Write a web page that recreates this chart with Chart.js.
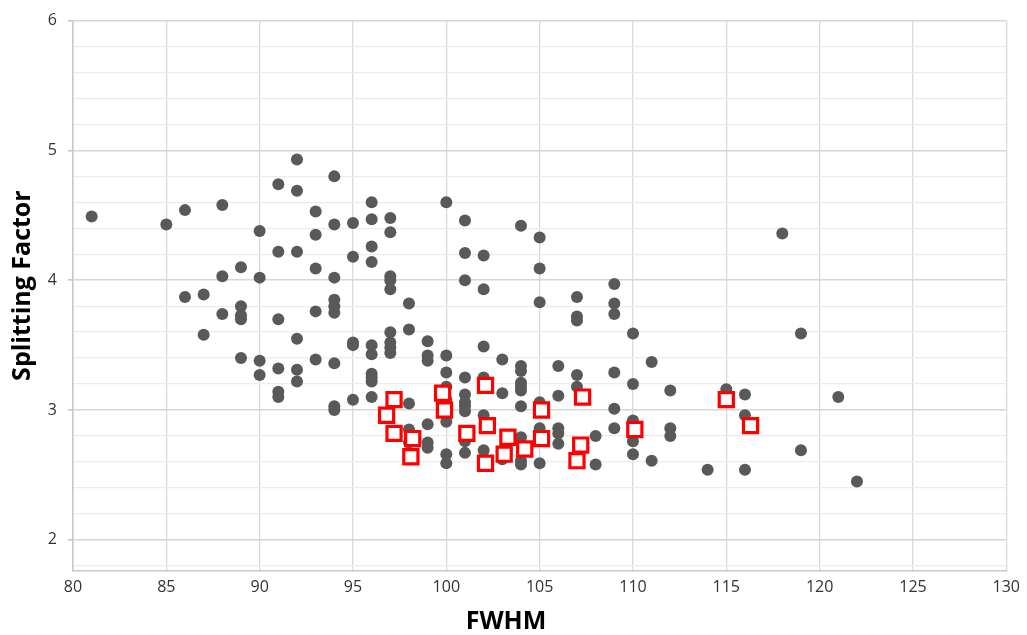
<!DOCTYPE html>
<html>
<head>
<meta charset="utf-8">
<script src="https://cdn.jsdelivr.net/npm/chart.js@4"></script>
<style>
  html, body { margin: 0; padding: 0; background: #ffffff; }
  #wrap { width: 1027px; height: 635px; }
</style>
</head>
<body>
<div id="wrap"><canvas id="c" width="1027" height="635"></canvas></div>
<script>
// ---- data ----
const fwhmAll = [
  81,
  85,
  86, 86,
  87, 87,
  88, 88, 88,
  89, 89, 89, 89, 89,
  90, 90, 90, 90,
  91, 91, 91, 91, 91, 91,
  92, 92, 92, 92, 92, 92,
  93, 93, 93, 93, 93,
  94, 94, 94, 94, 94, 94, 94, 94, 94,
  95, 95, 95, 95, 95,
  96, 96, 96, 96, 96, 96, 96, 96, 96, 96,
  97, 97, 97, 97, 97, 97, 97, 97, 97,
  98, 98, 98, 98, 98,
  99, 99, 99, 99, 99, 99,
  100, 100, 100, 100, 100, 100, 100, 100,
  101, 101, 101, 101, 101, 101, 101, 101, 101, 101,
  102, 102, 102, 102, 102, 102,
  103, 103, 103,
  104, 104, 104, 104, 104, 104, 104, 104, 104, 104,
  105, 105, 105, 105, 105, 105, 105,
  106, 106, 106, 106, 106,
  107, 107, 107, 107, 107,
  108, 108,
  109, 109, 109, 109, 109, 109,
  110, 110, 110, 110, 110,
  111, 111,
  112, 112, 112,
  114,
  115,
  116, 116, 116,
  118,
  119, 119,
  121,
  122
];
const splitAll = [
  4.49,
  4.43,
  4.54, 3.87,
  3.89, 3.58,
  4.58, 4.03, 3.74,
  4.10, 3.80, 3.73, 3.70, 3.40,
  4.38, 4.02, 3.38, 3.27,
  4.74, 4.22, 3.70, 3.32, 3.14, 3.10,
  4.93, 4.69, 4.22, 3.55, 3.31, 3.22,
  4.53, 4.35, 4.09, 3.76, 3.39,
  4.80, 4.43, 4.02, 3.85, 3.80, 3.75, 3.36, 3.03, 3.00,
  4.44, 4.18, 3.52, 3.50, 3.08,
  4.60, 4.47, 4.26, 4.14, 3.50, 3.43, 3.28, 3.25, 3.22, 3.10,
  4.48, 4.37, 4.03, 4.00, 3.93, 3.60, 3.52, 3.48, 3.44,
  3.82, 3.62, 3.05, 2.85, 2.75,
  3.53, 3.42, 3.38, 2.89, 2.75, 2.71,
  4.60, 3.42, 3.29, 3.18, 3.08, 2.91, 2.66, 2.59,
  4.46, 4.21, 4.00, 3.25, 3.12, 3.06, 3.03, 2.99, 2.76, 2.67,
  4.19, 3.93, 3.49, 3.25, 2.96, 2.69,
  3.39, 3.13, 2.62,
  4.42, 3.34, 3.30, 3.21, 3.18, 3.15, 3.03, 2.79, 2.61, 2.58,
  4.33, 4.09, 3.83, 3.06, 2.86, 2.82, 2.59,
  3.34, 3.11, 2.86, 2.82, 2.74,
  3.87, 3.72, 3.69, 3.27, 3.18,
  2.80, 2.58,
  3.97, 3.82, 3.74, 3.29, 3.01, 2.86,
  3.59, 3.20, 2.92, 2.76, 2.66,
  3.37, 2.61,
  3.15, 2.86, 2.80,
  2.54,
  3.16,
  3.12, 2.96, 2.54,
  4.36,
  3.59, 2.69,
  3.10,
  2.45
];
const fwhmSel = [96.8, 97.2, 97.2, 98.2, 98.1, 99.8, 99.9, 101.1, 102.1, 102.2, 103.3,
                 102.1, 103.1, 104.2, 105.1, 105.1, 107.3, 107.2, 107.0, 110.1, 115.0, 116.3];
const splitSel = [2.96, 3.08, 2.82, 2.78, 2.64, 3.13, 3.00, 2.82, 3.19, 2.88, 2.79,
                  2.59, 2.66, 2.70, 3.00, 2.78, 3.10, 2.73, 2.61, 2.85, 3.08, 2.88];
const xTickValues = [80, 85, 90, 95, 100, 105, 110, 115, 120, 125, 130];
const yGridValues = [1.8, 2, 2.2, 2.4, 2.6, 2.8, 3, 3.2, 3.4, 3.6, 3.8, 4, 4.2, 4.4, 4.6, 4.8, 5, 5.2, 5.4, 5.6, 5.8, 6];
const yLabelValues = [2, 3, 4, 5, 6];
const xTitle = 'FWHM';
const yTitle = 'Splitting Factor';

// ---- build ----
const allPoints = fwhmAll.map((x, i) => ({ x: x, y: splitAll[i] }));
const selPoints = fwhmSel.map((x, i) => ({ x: x, y: splitSel[i] }));

const FONT = '"Open Sans", "Liberation Sans", sans-serif';

const titlesPlugin = {
  id: 'axisTitles',
  afterDraw(chart) {
    const ctx = chart.ctx;
    const a = chart.chartArea;
    ctx.save();
    ctx.fillStyle = '#000000';
    ctx.font = 'bold 25px ' + FONT;
    ctx.textAlign = 'center';
    ctx.textBaseline = 'middle';
    ctx.fillText(xTitle, a.left + 433, 622);
    ctx.translate(23, a.top + 265);
    ctx.rotate(-Math.PI / 2);
    ctx.fillText(yTitle, 0, 0);
    ctx.restore();
  }
};

new Chart(document.getElementById('c'), {
  type: 'scatter',
  data: {
    datasets: [
      {
        label: 'selected',
        data: selPoints,
        order: 0,
        pointStyle: 'rect',
        pointRadius: 10,
        pointHoverRadius: 10,
        pointBorderWidth: 3.2,
        pointBackgroundColor: '#ffffff',
        pointBorderColor: '#ff0000'
      },
      {
        label: 'all',
        data: allPoints,
        order: 1,
        pointStyle: 'circle',
        pointRadius: 6,
        pointHoverRadius: 6,
        pointBorderWidth: 0,
        pointBackgroundColor: '#595959',
        pointBorderColor: '#595959'
      }
    ]
  },
  options: {
    responsive: false,
    animation: false,
    events: [],
    layout: { padding: { left: 0, top: 16, right: 20, bottom: 0 } },
    plugins: {
      legend: { display: false },
      tooltip: { enabled: false },
      title: { display: false }
    },
    scales: {
      x: {
        type: 'linear',
        min: 80,
        max: 130,
        afterFit(scale) { scale.height = 64; },
        afterBuildTicks(scale) { scale.ticks = xTickValues.map(v => ({ value: v })); },
        border: { display: true, color: '#c8c8c8', width: 1.5 },
        grid: {
          color: '#d9d9d9',
          lineWidth: 1.3,
          drawTicks: false
        },
        ticks: {
          autoSkip: false,
          maxRotation: 0,
          padding: 7,
          color: '#333333',
          font: { family: FONT, size: 16 }
        }
      },
      y: {
        type: 'linear',
        min: 1.76,
        max: 6,
        afterFit(scale) { scale.width = 73; },
        afterBuildTicks(scale) { scale.ticks = yGridValues.map(v => ({ value: v })); },
        border: { display: true, color: '#c8c8c8', width: 1.5 },
        grid: {
          color: (ctx) => (ctx.tick && yLabelValues.includes(ctx.tick.value)) ? '#d6d6d6' : '#ececec',
          lineWidth: (ctx) => (ctx.tick && yLabelValues.includes(ctx.tick.value)) ? 1.6 : 1.3,
          tickColor: (ctx) => (ctx.tick && yLabelValues.includes(ctx.tick.value)) ? '#c8c8c8' : 'rgba(0,0,0,0)',
          tickLength: 5,
          drawTicks: true
        },
        ticks: {
          autoSkip: false,
          padding: 11,
          color: '#333333',
          font: { family: FONT, size: 16 },
          callback: (v) => yLabelValues.includes(v) ? String(v) : ''
        }
      }
    }
  },
  plugins: [titlesPlugin]
});
</script>
</body>
</html>
